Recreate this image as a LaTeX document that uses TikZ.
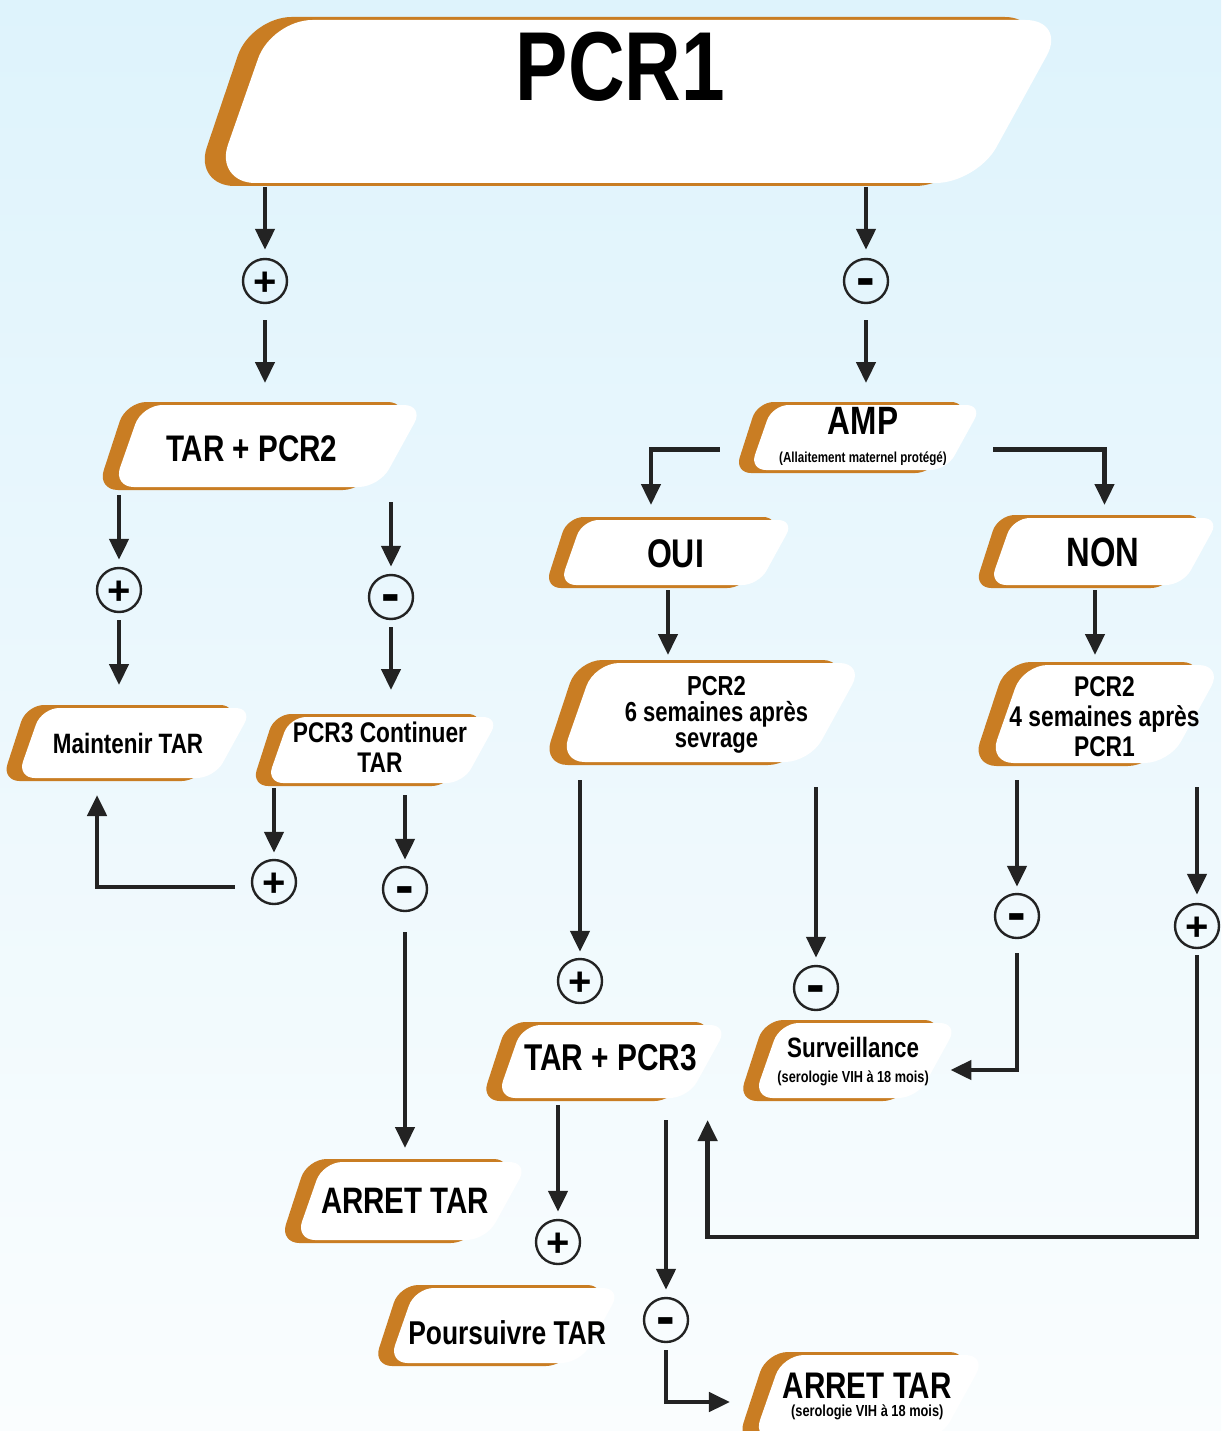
\documentclass[tikz,border=0pt]{standalone}
\usepackage{fontspec}
\setmainfont{Liberation Sans}[FakeStretch=0.8]
\newfontfamily\signfont{Liberation Sans}
\usetikzlibrary{arrows.meta,calc}

\definecolor{accent}{RGB}{201,125,35}
\definecolor{ink}{RGB}{35,35,35}
\definecolor{skytop}{RGB}{222,243,252}
\definecolor{skybottom}{RGB}{250,253,254}

\newcommand\fs[2]{\fontsize{#1}{#2}\selectfont}

\tikzset{
  boxnode/.style={inner sep=0pt, outer sep=0pt},
  boxlabel/.style={inner sep=0pt, align=center, text=black},
  sign/.style={circle, draw=ink, line width=2.4pt, minimum size=44pt, inner sep=0pt},
  plus/.style={sign, font=\signfont\bfseries\fs{40}{40}, text height=28pt, text depth=0pt},
  minus/.style={sign, font=\signfont\bfseries\fs{56}{56}, text height=30pt, text depth=0pt},
  arr/.style={draw=ink, line width=4.5pt, -{Triangle[length=21pt,width=19pt]}},
  gap/.style 2 args={shorten <=#1pt, shorten >=#2pt},
}

% slanted rounded box with an orange back plate;
% #2 name, #3 left, #4 top, #5 right, #6 bottom of the white face, #7 text
\newcommand\flowbox[7][]{%
  \pgfmathsetmacro\fbH{#6-#4}%
  \pgfmathsetmacro\fbR{0.25*\fbH}%
  \pgfmathsetmacro\fbx{#3-0.33*\fbR}%
  \pgfmathsetmacro\fbX{#5+0.45*\fbR}%
  \pgfmathsetmacro\fbL{0.35*\fbH}%
  \pgfmathsetmacro\fbS{0.55*\fbH}%
  \pgfmathsetmacro\fbD{0.06*\fbH+11}%
  \pgfmathsetmacro\fbW{\fbX-\fbx}%
  \fill[accent, rounded corners=\fbR pt]
    (\fbx-\fbD,#6+3) -- (\fbx+\fbL-\fbD,#4-3) -- (\fbX-\fbD,#4-3) -- (\fbX-\fbS-\fbD,#6+3) -- cycle;
  \fill[white, rounded corners=\fbR pt]
    (\fbx,#6) -- (\fbx+\fbL,#4) -- (\fbX,#4) -- (\fbX-\fbS,#6) -- cycle;
  \node[boxnode, minimum width=\fbW pt, minimum height=\fbH pt,
        label={[boxlabel,#1]center:{#7}}] (#2) at ({(\fbx+\fbX)/2},{(#4+#6)/2}) {};
}

\begin{document}
\begin{tikzpicture}[x=1pt,y=-1pt]
\useasboundingbox (0,0) rectangle (1221,1431);
\clip (0,0) rectangle (1221,1431);
\shade[top color=skytop, bottom color=skybottom] (0,0) rectangle (1221,1431);

% boxes
\flowbox[font=\bfseries\fs{98}{98}, shift={(-20,-34.5)}]{pcr1}{228}{20}{1048}{183}{PCR1}
\flowbox[font=\bfseries\fs{37}{40}, shift={(-17,3)}]{tarpcr2}{120}{405}{415}{487}{TAR + PCR2}
\flowbox[font=\bfseries\fs{14.5}{27.7}, shift={(-3,-1)}]{amp}{755}{405}{975}{470}{{\fs{39.5}{40}AMP}\\(Allaitement maternel protégé)}
\flowbox[font=\bfseries\fs{40}{40}, shift={(-1.5,1)}]{oui}{565}{520}{787}{585}{OUI}
\flowbox[font=\bfseries\fs{41}{40}, shift={(-1.5,1)}]{non}{995}{518}{1212}{585}{NON}
\flowbox[font=\bfseries\fs{27.5}{26}, shift={(4.5,2.5)}]{pcr26}{568}{663}{853}{762}{PCR2\\6 semaines après\\sevrage}
\flowbox[font=\bfseries\fs{28.5}{30}, shift={(-1.5,3)}]{pcr24}{997}{665}{1212}{763}{PCR2\\4 semaines après\\PCR1}
\flowbox[font=\bfseries\fs{28}{30}, shift={(-7,0)}]{maint}{23}{708}{245}{778}{Maintenir TAR}
\flowbox[font=\bfseries\fs{28.4}{30}, shift={(-3,-3)}]{pcr3}{272}{717}{492}{783}{PCR3 Continuer\\TAR}
\flowbox[font=\bfseries\fs{36.8}{40}, shift={(-7,0)}]{arretl}{302}{1162}{520}{1240}{ARRET TAR}
\flowbox[font=\bfseries\fs{37.3}{40}, shift={(-2,-4)}]{tarpcr3}{503}{1025}{720}{1098}{TAR + PCR3}
\flowbox[font=\bfseries\fs{15.9}{25}, shift={(-3,1)}]{surv}{760}{1023}{950}{1098}{{\fs{28}{30}Surveillance}\\(serologie VIH à 18 mois)}
\flowbox[font=\bfseries\fs{33}{36}, shift={(2,7.5)}]{pours}{395}{1288}{613}{1363}{Poursuivre TAR}
\flowbox[font=\bfseries\fs{16}{18}, shift={(-2.5,-1)}]{arretb}{760}{1355}{977}{1440}{{\fs{37}{40}ARRET TAR}\\(serologie VIH à 18 mois)}

% result signs
\node[plus]  (p1)  at (265,281)  {+};
\node[minus] (m1)  at (866,281)  {-};
\node[plus]  (pp2) at (119,590)  {+};
\node[minus] (pm2) at (391,597)  {-};
\node[plus]  (pp3) at (274,882)  {+};
\node[minus] (pm3) at (405,889)  {-};
\node[plus]  (pp4) at (580,981)  {+};
\node[minus] (pm4) at (816,988)  {-};
\node[minus] (pm5) at (1017,916) {-};
\node[plus]  (pp5) at (1197,926) {+};
\node[plus]  (pp6) at (558,1242) {+};
\node[minus] (pm6) at (666,1320) {-};

% PCR1
\draw[arr, gap={4}{8}]  (pcr1.south -| p1) -- (p1);
\draw[arr, gap={16}{22}] (p1) -- (p1 |- tarpcr2.north);
\draw[arr, gap={4}{8}]  (pcr1.south -| m1) -- (m1);
\draw[arr, gap={16}{22}] (m1) -- (m1 |- amp.north);

% positive branch
\draw[arr, gap={8}{7}]  (tarpcr2.south -| pp2) -- (pp2);
\draw[arr, gap={7}{23}] (pp2) -- (pp2 |- maint.north);
\draw[arr, gap={15}{7}] (tarpcr2.south -| pm2) -- (pm2);
\draw[arr, gap={7}{27}] (pm2) -- (pm2 |- pcr3.north);
\draw[arr, gap={5}{6}]  (pcr3.south -| pp3) -- (pp3);
\draw[arr, gap={0}{17}] ([shift={(-16,5)}]pp3.west) -| ([xshift=-38pt]maint.south);
\draw[arr, gap={12}{6}] (pcr3.south -| pm3) -- (pm3);
\draw[arr, gap={20}{14}] (pm3) -- (pm3 |- arretl.north);

% negative branch
\draw[arr, gap={0}{15}] ([shift={(-30,12)}]amp.west) -| ([xshift=-26pt]oui.north);
\draw[arr, gap={0}{13}] ([shift={(11,12)}]amp.east) -| (non.north);
\draw[arr, gap={5}{8}]  ([xshift=-9pt]oui.south) -- ([xshift=-9pt]oui.south |- pcr26.north);
\draw[arr, gap={5}{10}] ([xshift=-9.5pt]non.south) -- ([xshift=-9.5pt]non.south |- pcr24.north);
\draw[arr, gap={18}{6}] (pcr26.south -| pp4) -- (pp4);
\draw[arr, gap={25}{7}] (pcr26.south -| pm4) -- (pm4);
\draw[arr, gap={17}{6}] (pcr24.south -| pm5) -- (pm5);
\draw[arr, gap={24}{8}] (pcr24.south -| pp5) -- (pp5);
\draw[arr, gap={14}{0}] (pm5) |- ([shift={(-8,9.5)}]surv.east);
\draw[arr, gap={6}{22}] (pp5) |- ([shift={(95,139)}]tarpcr3.south) -- ([xshift=95pt]tarpcr3.south);
\draw[arr, gap={7}{7}]  (tarpcr3.south -| pp6) -- (pp6);
\draw[arr, gap={22}{7}] (tarpcr3.south -| pm6) -- (pm6);
\draw[arr, gap={7}{0}]  (pm6) |- ([shift={(-23,4.5)}]arretb.west);
\end{tikzpicture}
\end{document}
